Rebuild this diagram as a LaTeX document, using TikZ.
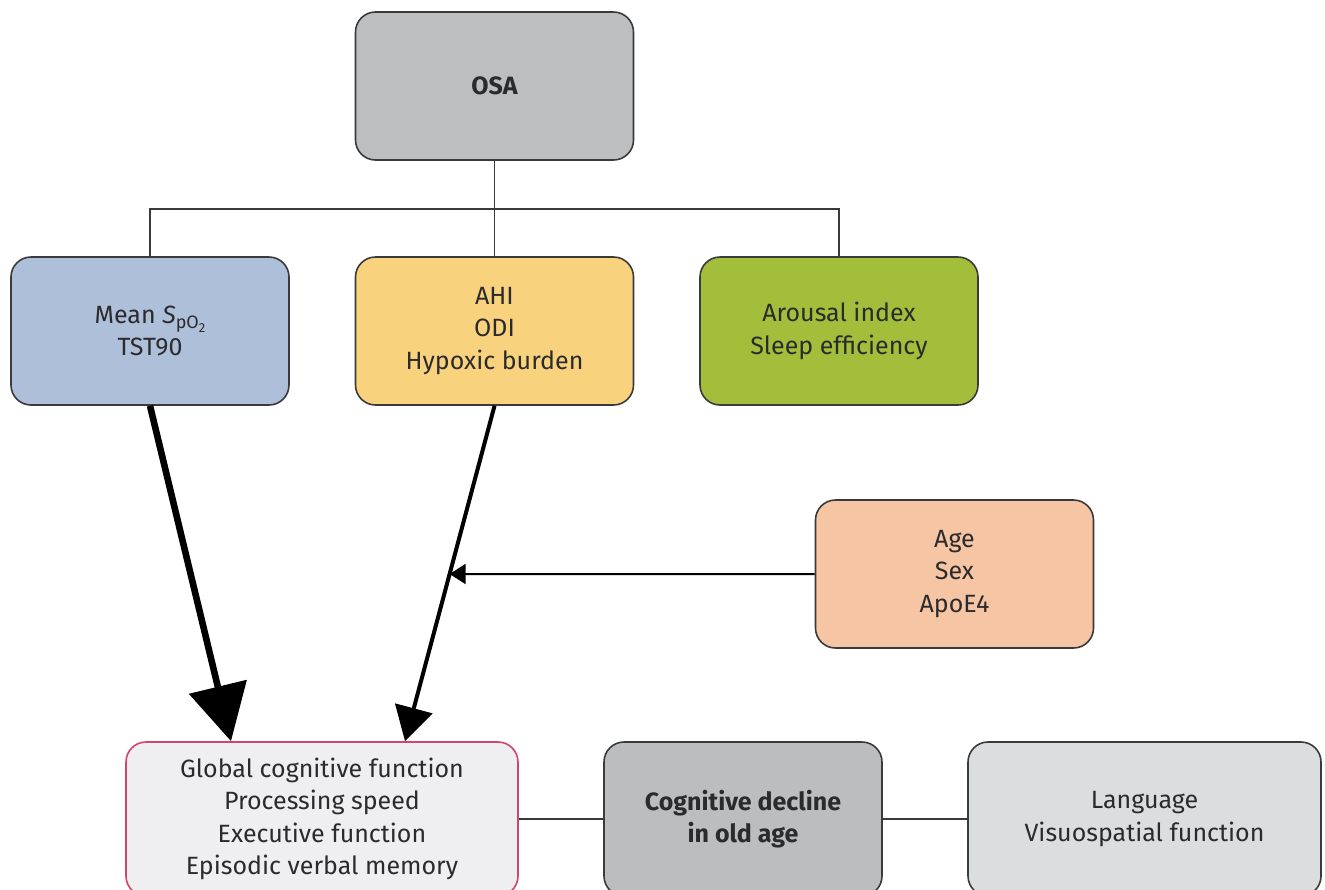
\documentclass[tikz,border=0pt]{standalone}
\usepackage{fontspec}
\setmainfont{Fira Sans}
\usetikzlibrary{arrows.meta,intersections}
\definecolor{osagray}{HTML}{BDBEC0}
\definecolor{spoblue}{HTML}{AEBFD9}
\definecolor{ahiyellow}{HTML}{F9D27E}
\definecolor{arogreen}{HTML}{A2BE3B}
\definecolor{covpeach}{HTML}{F5C5A4}
\definecolor{funcgray}{HTML}{EFEFF1}
\definecolor{funcred}{HTML}{D24469}
\definecolor{cloggray}{HTML}{BCBDBF}
\definecolor{langgray}{HTML}{DCDDDF}
\definecolor{boxline}{HTML}{3A3A3C}
\definecolor{txt}{HTML}{2B2B2D}
\tikzset{
	box/.style={draw=boxline,line width=0.8pt,rounded corners=10pt,minimum width=139pt,minimum height=74pt,align=center,text=txt,font=\fontsize{12.5}{16.2}\selectfont},
	tree/.style={draw=boxline,line width=0.8pt},
	bigarrow/.style={line width=3.3pt,-{Triangle[length=28pt,width=29pt]}},
	midarrow/.style={line width=2pt,-{Triangle[length=17pt,width=19pt]}},
	smallarrow/.style={line width=1pt,-{Triangle[length=8pt,width=10pt]}}
}

\begin{document}
\begin{tikzpicture}[x=0.5pt,y=-0.5pt]
					\useasboundingbox (0,0) rectangle (1325,889);
					%TOP
					\node[box,fill=osagray,font=\fontsize{12.5}{16.2}\selectfont\bfseries] (osa) at (494.5,86) {OSA};
					%MEASURES
					\node[box,fill=spoblue] (spo) at (150,331) {Mean \textit{S}\raisebox{-0.4ex}{\fontsize{9}{9}\selectfont pO\raisebox{-0.4ex}{\fontsize{6.5}{6.5}\selectfont 2}}\\TST90};
					\node[box,fill=ahiyellow] (ahi) at (494.5,331) {AHI\\ODI\\Hypoxic burden};
					\node[box,fill=arogreen] (aro) at (839,331) {Arousal index\\Sleep efficiency};
					\node[box,fill=covpeach] (cov) at (954.5,574) {Age\\Sex\\ApoE4};
					%OUTCOMES
					\node[box,fill=funcgray,draw=funcred,minimum width=196pt,minimum height=77pt] (func) at (322,819) {Global cognitive function\\Processing speed\\Executive function\\Episodic verbal memory};
					\node[box,fill=cloggray,minimum height=77pt,font=\fontsize{12.5}{16.2}\selectfont\bfseries] (decl) at (743,819) {Cognitive decline\\in old age};
					\node[box,fill=langgray,minimum width=176.5pt,minimum height=77pt] (lang) at (1144.5,819) {Language\\Visuospatial function};
					%TREE
					\coordinate (fork) at (494.5,209);
					\draw[tree] (osa.south) -- (fork) -- (ahi.north);
					\draw[tree] (spo.north) |- (fork) -| (aro.north);
					\draw[tree] (func.east |- decl.west) -- (decl.west);
					\draw[tree] (decl.east) -- (lang.west);
					%ARROWS
					\draw[bigarrow] (spo.south) -- ([xshift=-45.5pt]func.north);
					\draw[midarrow,name path=hyp] (ahi.south) -- ([xshift=41.5pt]func.north);
					\path[name path=covline] (cov.west) -- +(-500,0);
					\path[name intersections={of=hyp and covline,by=hit}];
					\draw[smallarrow] (cov.west) -- (hit);
\end{tikzpicture}
\end{document}
